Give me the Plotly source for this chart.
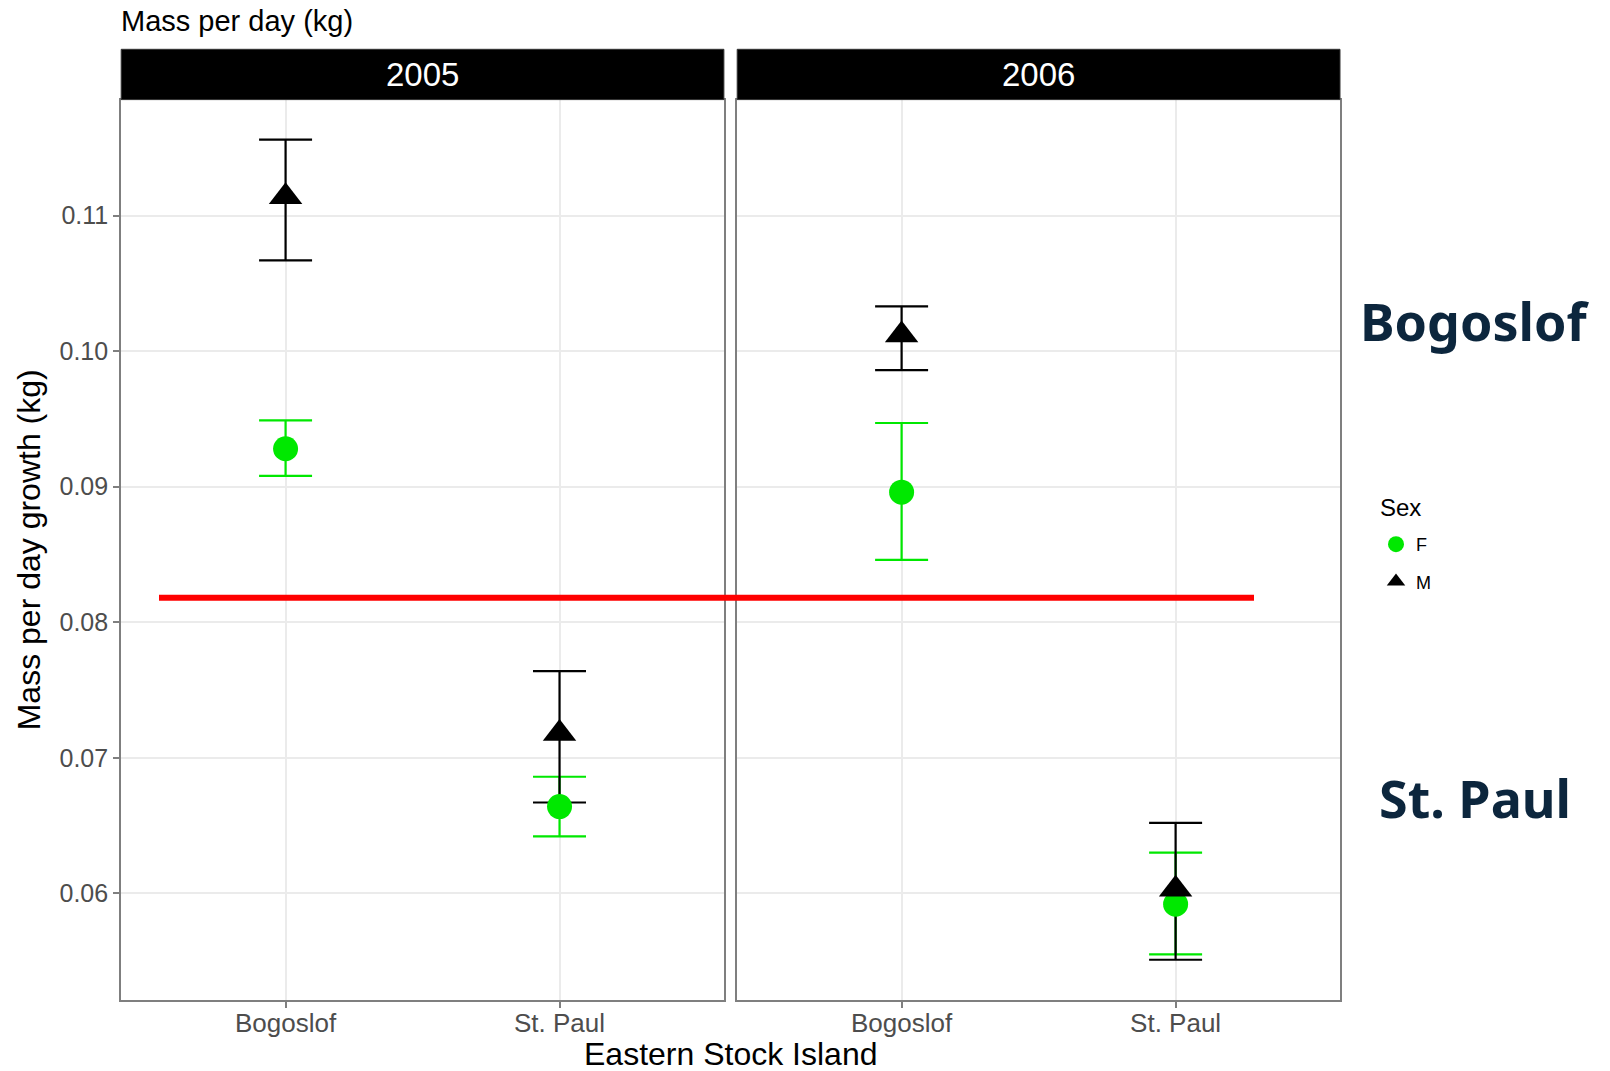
import plotly.graph_objects as go

# ---------------- data ----------------
years = ["2005", "2006"]
islands = ["Bogoslof", "St. Paul"]
sexes = ["F", "M"]

# mean mass-per-day growth (kg): [Bogoslof, St. Paul] per year
f_mean = {"2005": [0.0928, 0.0664], "2006": [0.0896, 0.0592]}
f_upper = {"2005": [0.0949, 0.0686], "2006": [0.0947, 0.0630]}
f_lower = {"2005": [0.0908, 0.0642], "2006": [0.0846, 0.0555]}

m_mean = {"2005": [0.1114, 0.0718], "2006": [0.1012, 0.0603]}
m_upper = {"2005": [0.1156, 0.0764], "2006": [0.1033, 0.0652]}
m_lower = {"2005": [0.1067, 0.0667], "2006": [0.0986, 0.0551]}

red_line_value = [0.0818]
y_ticks = [0.06, 0.07, 0.08, 0.09, 0.10, 0.11]
side_labels = ["Bogoslof", "St. Paul"]

# ---------------- styling ----------------
W, H = 1610, 1071
GREEN = "#00e800"
BLACK = "#000000"
FONT = "Liberation Sans, Arial, sans-serif"

px = lambda v: v / W
py = lambda v: 1 - v / H

panel_x = [(121.2, 723.9), (737.2, 1340.0)]
plot_top, plot_bot = 99.6, 1000.0
strip_top = 49.3

fig = go.Figure()

axes = [("x", "y"), ("x2", "y2")]

for i, yr in enumerate(years):
    xa, ya = axes[i]
    fu = [u - m for u, m in zip(f_upper[yr], f_mean[yr])]
    fl = [m - l for l, m in zip(f_lower[yr], f_mean[yr])]
    mu = [u - m for u, m in zip(m_upper[yr], m_mean[yr])]
    ml = [m - l for l, m in zip(m_lower[yr], m_mean[yr])]
    # error bars first (drawn under the points)
    for mean, up, lo, col in [(f_mean[yr], fu, fl, GREEN), (m_mean[yr], mu, ml, BLACK)]:
        fig.add_trace(go.Scatter(
            x=islands, y=mean, mode="markers",
            marker=dict(size=1, opacity=0),
            error_y=dict(type="data", array=up, arrayminus=lo, symmetric=False,
                         color=col, thickness=2.2, width=26.5),
            xaxis=xa, yaxis=ya, showlegend=False, hoverinfo="skip"))
    # points
    fig.add_trace(go.Scatter(
        x=islands, y=f_mean[yr], mode="markers", name="F",
        marker=dict(symbol="circle", size=25, color=GREEN),
        xaxis=xa, yaxis=ya, showlegend=(i == 0), legendgroup="F"))
    fig.add_trace(go.Scatter(
        x=islands, y=m_mean[yr], mode="markers", name="M",
        marker=dict(symbol="triangle-up", size=29, color=BLACK),
        xaxis=xa, yaxis=ya, showlegend=(i == 0), legendgroup="M"))

yrange = [0.05213, 0.11856]
common_x = dict(type="category", range=[-0.6, 1.6], showgrid=True, gridcolor="#ebebeb",
                gridwidth=1.5, showline=True, mirror=True, linecolor="#7f7f7f", linewidth=2,
                ticks="outside", ticklen=6, tickcolor="#7f7f7f", tickwidth=1.5,
                ticklabelstandoff=-7,
                tickfont=dict(family=FONT, size=26, color="#4d4d4d"), zeroline=False,
                fixedrange=True)
common_y = dict(range=yrange, showgrid=True, gridcolor="#ebebeb", gridwidth=1.5,
                showline=True, mirror=True, linecolor="#7f7f7f", linewidth=2,
                zeroline=False, tickvals=y_ticks, tickformat=".2f",
                domain=[py(plot_bot), py(plot_top)])

fig.update_layout(
    width=W, height=H, margin=dict(l=0, r=0, t=0, b=0),
    paper_bgcolor="white", plot_bgcolor="white",
    font=dict(family=FONT, color="black"),
    xaxis=dict(common_x, domain=[px(panel_x[0][0]), px(panel_x[0][1])]),
    xaxis2=dict(common_x, domain=[px(panel_x[1][0]), px(panel_x[1][1])]),
    yaxis=dict(common_y, ticks="outside", ticklen=6, tickcolor="#7f7f7f", tickwidth=1.5,
               tickfont=dict(family=FONT, size=25, color="#4d4d4d"),
               title=dict(text="Mass per day growth (kg)", standoff=9,
                          font=dict(family=FONT, size=32, color="black"))),
    yaxis2=dict(common_y, anchor="x2", matches="y", showticklabels=False, ticks=""),
    legend=dict(x=px(1376), y=py(526), xanchor="left", yanchor="top",
                font=dict(family=FONT, size=18, color="black"),
                traceorder="grouped", tracegroupgap=11, bgcolor="rgba(0,0,0,0)"),
    showlegend=True,
)

# legend title
fig.add_annotation(xref="paper", yref="paper", x=px(1378), y=py(507), text="Sex",
                   showarrow=False, xanchor="left", yanchor="middle",
                   font=dict(family=FONT, size=24, color="black"))

# facet strips
for i, yr in enumerate(years):
    x0, x1 = panel_x[i]
    fig.add_shape(type="rect", xref="paper", yref="paper",
                  x0=px(x0), x1=px(x1), y0=py(plot_top), y1=py(strip_top),
                  fillcolor="black", line=dict(color="#333333", width=1), layer="above")
    fig.add_annotation(xref="paper", yref="paper", x=px((x0 + x1) / 2),
                       y=py((plot_top + strip_top) / 2), text=yr, showarrow=False,
                       xanchor="center", yanchor="middle",
                       font=dict(family=FONT, size=33, color="white"))

# red threshold line spanning both panels
fig.add_shape(type="line", xref="paper", yref="y", x0=px(159), x1=px(1254),
              y0=red_line_value[0], y1=red_line_value[0],
              line=dict(color="#ff0000", width=6), layer="above")

# title
fig.add_annotation(xref="paper", yref="paper", x=px(119), y=py(21), text="Mass per day (kg)",
                   showarrow=False, xanchor="left", yanchor="middle",
                   font=dict(family=FONT, size=29, color="black"))

# x axis title
fig.add_annotation(xref="paper", yref="paper", x=px((panel_x[0][0] + panel_x[1][1]) / 2),
                   y=py(1054), text="Eastern Stock Island", showarrow=False,
                   xanchor="center", yanchor="middle",
                   font=dict(family=FONT, size=32, color="black"))

# side labels
for lab, yc in zip(side_labels, [320, 797]):
    fig.add_annotation(xref="paper", yref="paper", x=px(1475), y=py(yc), text="<b>%s</b>" % lab,
                       showarrow=False, xanchor="center", yanchor="middle",
                       font=dict(family="Noto Sans, Open Sans, sans-serif", size=52, color="#0c263d"))

fig.write_html("out.html")
